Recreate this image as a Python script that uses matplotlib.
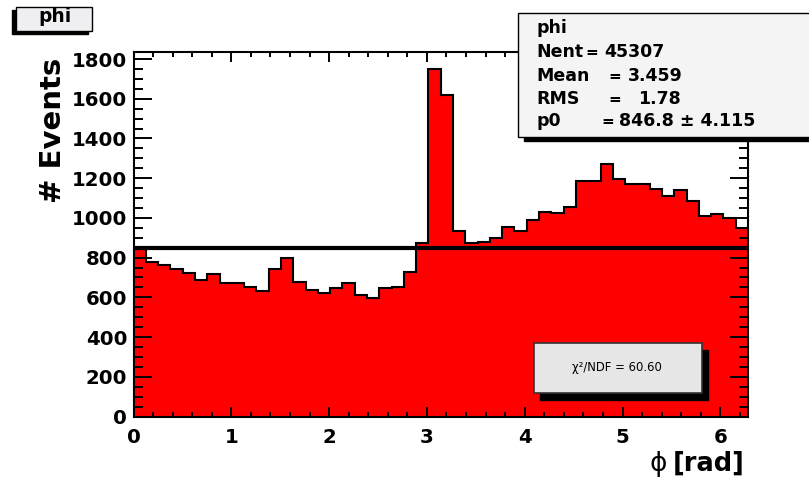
import matplotlib.pyplot as plt
import numpy as np
from matplotlib.patches import Rectangle
from matplotlib.ticker import MultipleLocator

# phi distribution, 50 bins between 0 and 2*pi
n_bins = 50
phi_lo = 0.0
phi_hi = 2 * np.pi
counts = [843, 779, 763, 741, 721, 687, 716, 674, 670, 654,
          633, 744, 797, 679, 637, 623, 649, 670, 614, 598,
          646, 650, 729, 875, 1748, 1619, 933, 872, 880, 897,
          953, 936, 987, 1030, 1027, 1056, 1188, 1188, 1271, 1194,
          1169, 1169, 1146, 1112, 1140, 1087, 1011, 1022, 1001, 947]

# constant fit result and stats
p0 = 846.8
p0_err = 4.115
nent = 45307
mean = 3.459
rms = 1.78
chi2_ndf = 60.60

W, H = 809, 483
fig = plt.figure(figsize=(W / 100, H / 100), dpi=100)
fig.patch.set_facecolor('white')

def fx(px):
    return px / W

def fy(py):
    return 1 - py / H

ax = fig.add_axes([fx(133.5), fy(416.5), fx(748) - fx(133.5), fy(52) - fy(416.5)])

edges = np.linspace(phi_lo, phi_hi, n_bins + 1)
ax.stairs(counts, edges, fill=True, color='#ff0000', zorder=1)
ax.stairs(counts, edges, baseline=None, color='black', lw=1.5, zorder=1.2)
ax.axhline(p0, color='black', lw=3.0, zorder=3)

ax.set_xlim(phi_lo, phi_hi)
ax.set_ylim(0, 1.05 * max(counts))

ax.xaxis.set_major_locator(MultipleLocator(1))
ax.xaxis.set_minor_locator(MultipleLocator(0.2))
ax.yaxis.set_major_locator(MultipleLocator(200))
ax.yaxis.set_minor_locator(MultipleLocator(50))

ax.tick_params(which='both', direction='in', top=True, right=True, width=1.4, color='black')
ax.tick_params(axis='x', which='major', length=7.2, pad=8.3)
ax.tick_params(axis='x', which='minor', length=3.6)
ax.tick_params(axis='y', which='major', length=13, pad=4.5)
ax.tick_params(axis='y', which='minor', length=6.5)
for lab in ax.get_xticklabels() + ax.get_yticklabels():
    lab.set_fontsize(14.2)
    lab.set_fontweight('bold')
for sp in ax.spines.values():
    sp.set_linewidth(1.5)
    sp.set_zorder(2.5)

# axis titles
fig.text(fx(53), fy(58), '# Events', rotation=90, ha='center', va='top',
         fontsize=21, fontweight='bold')
fig.text(fx(745), fy(471), '[rad]', ha='right', va='baseline', fontsize=18.5, fontweight='bold')
fig.text(fx(667), fy(471), 'ϕ', ha='right', va='baseline', fontsize=19)

# title box
fig.add_artist(Rectangle((fx(12), fy(34)), fx(76), 24 / H, transform=fig.transFigure,
                         facecolor='black', edgecolor='black', zorder=5))
fig.add_artist(Rectangle((fx(16), fy(31)), fx(76), 24 / H, transform=fig.transFigure,
                         facecolor='#efeff2', edgecolor='black', lw=1.0, zorder=6))
fig.text(fx(55), fy(21.5), 'phi', ha='center', va='baseline', fontsize=13.4,
         fontweight='bold', zorder=7)

# stats box
fig.add_artist(Rectangle((fx(524), fy(141)), fx(320), 124 / H, transform=fig.transFigure,
                         facecolor='black', edgecolor='black', zorder=5))
fig.add_artist(Rectangle((fx(518), fy(137)), fx(320), 124.3 / H, transform=fig.transFigure,
                         facecolor='#f4f4f4', edgecolor='black', lw=1.0, zorder=6))
# (baseline, label, x of '=', x of value, value text)
stats = [
    (57, 'Nent', 592, 604, f'{nent}'),
    (81, 'Mean', 615, 628, f'{mean}'),
    (104, 'RMS', 615, 638, f'{rms}'),
    (126, 'p0', 608, 619, f'{p0} ± {p0_err}'),
]
fig.text(fx(536), fy(33), 'phi', ha='left', va='baseline', fontsize=12.5,
         fontweight='bold', zorder=7)
for base, name, x_eq, x_val, val in stats:
    fig.text(fx(536), fy(base), name, ha='left', va='baseline', fontsize=12.5,
             fontweight='bold', zorder=7)
    fig.text(fx(x_eq), fy(base), '=', ha='center', va='baseline', fontsize=11,
             fontweight='bold', zorder=7)
    fig.text(fx(x_val), fy(base), val, ha='left', va='baseline', fontsize=12.5,
             fontweight='bold', zorder=7)

# chi2/NDF box
fig.add_artist(Rectangle((fx(540), fy(400)), fx(168), 50 / H, transform=fig.transFigure,
                         facecolor='black', edgecolor='black', zorder=5))
fig.add_artist(Rectangle((fx(534), fy(393)), fx(168), 50 / H, transform=fig.transFigure,
                         facecolor='#e6e6e6', edgecolor='#333333', lw=1.2, zorder=6))
fig.text(fx(617), fy(368), f'χ²/NDF = {chi2_ndf:.2f}', ha='center', va='center',
         fontsize=8.4, zorder=7)

fig.savefig('out.png', dpi=100)
